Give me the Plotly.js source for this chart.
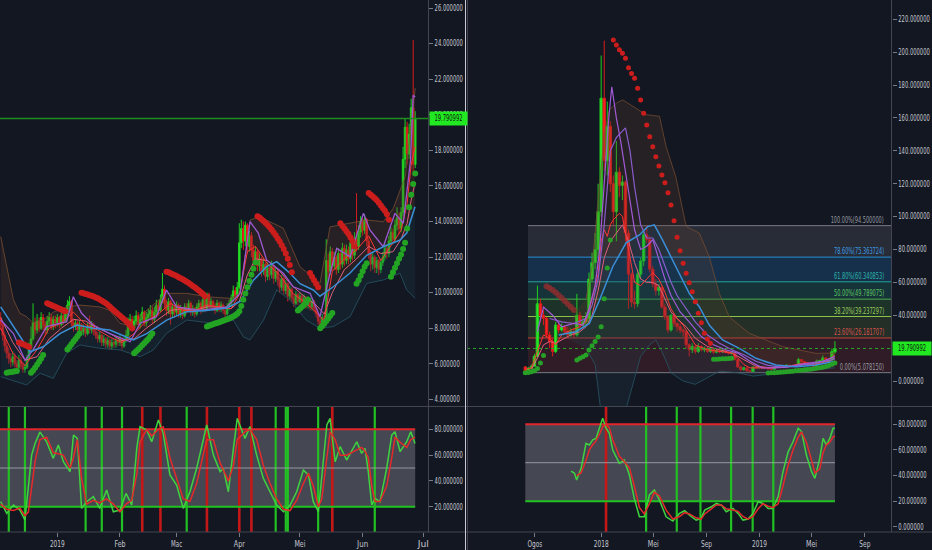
<!DOCTYPE html>
<html><head><meta charset="utf-8">
<script src="https://cdn.plot.ly/plotly-3.0.1.min.js"></script>
<style>html,body{margin:0;padding:0;background:#131722;}#chart{width:932px;height:550px;}</style>
</head><body><div id="chart"></div>
<script>
// ---------- LEFT PANE: daily, index 0 = 2018-12-04 ----------
const openL0 = 8.6;
const closeL = [8.2,7.6,7.0,6.6,6.3,6.1,6.4,6.0,5.8,6.2,5.9,5.7,5.8,6.3,6.9,7.4,8.3,7.9,8.4,8.0,8.6,8.2,7.9,8.4,8.6,8.1,8.5,8.3,
8.6,8.2,8.7,8.4,8.9,9.3,9.5,8.3,8.1,8.3,7.9,8.2,7.8,8.0,7.7,8.1,7.9,8.2,7.8,7.6,7.4,7.6,7.2,7.4,7.1,7.3,7.0,7.2,7.1,7.3,7.2,
7.4,7.0,7.3,7.6,8.2,8.5,8.0,8.4,8.7,8.2,8.5,8.9,8.3,8.6,8.8,9.0,8.5,8.9,9.3,9.0,9.6,10.2,9.4,9.0,9.5,8.8,9.2,8.9,
9.3,8.8,9.1,8.7,9.2,9.0,9.4,8.9,9.1,8.8,9.2,9.4,9.0,9.6,9.1,9.9,9.3,9.5,9.2,9.0,9.4,9.1,9.3,9.0,8.8,9.2,9.4,9.7,10.1,9.8,10.3,
12.8,13.6,12.9,13.8,12.6,13.2,12.4,11.8,12.3,11.5,11.9,11.2,11.6,10.9,11.4,11.0,11.5,10.8,11.2,10.7,10.3,10.8,10.1,10.5,9.8,10.2,9.7,9.4,9.9,9.5,
9.8,9.4,9.7,9.3,9.6,9.2,9.5,9.1,8.8,8.4,8.1,8.6,8.3,11.8,11.2,12.3,11.5,12.0,11.3,12.2,11.6,12.5,11.8,12.4,11.9,12.8,12.1,13.0,12.6,13.4,14.0,
13.5,14.1,12.9,12.2,11.6,12.0,11.4,11.8,11.3,11.7,12.0,12.5,12.2,12.9,13.4,13.0,13.8,14.2,13.6,14.5,17.5,19.3,17.8,18.9,20.4,17.2,19.790992];
const highL = [8.9,8.4,7.8,7.3,6.9,6.6,6.7,6.6,6.2,6.5,6.4,6.1,6.0,6.5,7.2,8.1,9.4,8.6,8.8,8.6,8.9,8.8,8.4,8.7,8.9,8.8,8.7,8.7,
8.8,8.7,8.9,8.9,9.1,9.6,9.8,9.6,8.5,8.5,8.4,8.4,8.3,8.2,8.1,8.3,8.7,8.4,8.3,8.0,7.8,7.8,7.7,7.6,7.5,7.5,7.4,7.4,7.4,7.5,7.5,
7.6,7.5,7.5,7.9,8.6,8.8,8.7,8.7,9.0,8.9,8.8,9.2,9.0,8.9,9.1,9.3,9.2,9.2,9.6,9.5,9.9,11.1,10.4,9.6,9.7,9.6,9.4,9.3,
9.5,9.4,9.3,9.2,9.4,9.4,9.6,9.5,9.3,9.2,9.4,9.6,9.5,9.8,10.0,10.0,10.0,9.7,9.6,9.4,9.6,9.5,9.5,9.4,9.2,9.4,9.6,9.9,10.4,10.3,10.6,
13.9,14.1,14.0,14.0,13.9,13.5,13.4,12.7,12.6,12.4,12.2,12.0,11.9,11.7,11.7,11.5,11.8,11.6,11.4,11.3,10.9,11.0,10.9,10.7,10.6,10.4,10.3,9.9,10.1,10.0,
10.0,9.9,9.9,9.8,9.8,9.7,9.7,9.6,9.2,8.9,8.6,8.8,8.8,13.0,12.2,12.6,12.5,12.3,12.1,12.5,12.4,12.8,12.7,12.7,12.6,13.3,13.0,13.4,15.6,13.8,14.3,
14.2,14.4,14.2,13.1,12.4,12.3,12.1,12.0,11.9,11.9,12.3,12.8,12.7,13.2,13.7,13.6,14.1,14.8,14.5,14.8,18.2,19.8,19.6,19.5,20.9,24.2,20.2];
const lowL = [7.9,7.3,6.7,6.3,6.0,5.8,5.9,5.8,5.6,5.6,5.7,5.5,5.5,5.7,6.2,6.8,7.3,7.6,7.7,7.8,7.9,7.9,7.6,7.7,8.2,7.9,7.9,8.0,
8.1,8.0,8.1,8.2,8.3,8.7,9.0,8.1,7.8,7.9,7.7,7.8,7.6,7.6,7.5,7.6,7.7,7.7,7.6,7.4,7.2,7.2,7.0,7.0,6.9,6.9,6.8,6.8,6.9,6.9,7.0,
7.0,6.8,6.9,7.2,7.5,8.0,7.8,7.9,8.2,8.0,8.0,8.3,8.1,8.1,8.4,8.6,8.3,8.3,8.7,8.7,8.9,9.4,9.1,8.7,8.8,8.2,8.6,8.6,
8.7,8.6,8.6,8.5,8.6,8.8,8.9,8.7,8.7,8.6,8.7,9.0,8.8,8.9,8.9,9.0,9.1,9.1,9.0,8.8,8.9,8.9,8.9,8.8,8.6,8.7,9.0,9.2,9.5,9.6,9.7,
10.2,12.5,12.4,12.6,12.2,12.3,12.0,11.5,11.6,11.2,11.2,10.9,11.0,10.6,10.7,10.7,10.8,10.5,10.6,10.4,10.0,10.1,9.9,9.9,9.5,9.6,9.5,9.2,9.3,9.3,
9.4,9.2,9.2,9.1,9.1,9.0,9.0,8.9,8.6,8.2,7.9,8.0,8.0,8.2,10.8,11.0,11.2,11.3,11.0,11.1,11.3,11.4,11.5,11.6,11.6,11.7,11.8,11.9,12.3,12.4,13.1,
13.2,13.3,12.6,11.9,11.2,11.3,11.1,11.1,11.0,11.1,11.5,11.8,11.9,12.0,12.7,12.7,12.8,13.5,13.3,13.4,14.3,17.0,17.2,17.5,18.6,16.6,17.0];

const blueLx = [0,9.5,14.5,21,29.3,37.6,45.8,54,65.6,72.2,82.1,92,101.9,111.8,118.4,125,131.5,136.5,143,148,154.6,157.9,164.5,172.8,181,189.2,197.5,200.8,204.9];
const blueLv = [9.2,7.5,6.68,6.96,7.7,8.18,8.0,7.9,7.34,7.7,8.46,8.93,9.0,9.14,9.5,10.7,11.46,11.74,11.1,10.5,10.15,9.8,10.33,11.1,12.1,12.58,12.96,13.35,14.83];
const purpleLx = [0,6.3,12,16,22.7,32.6,35.9,40,45.8,54,64,69,77,82,87,98.6,111.8,118.4,123.3,127.4,131.5,139.8,144.7,153,157.9,162.9,166.2,172.8,179.4,182.6,189.2,195,199.1,202.7,204,205];
const purpleLv = [8.46,7.7,6.2,6.78,8.09,8.37,9.77,8.84,8.18,7.7,7.24,8.28,8.65,10.15,9.2,9.0,9.2,9.96,13.99,13.35,11.84,11.09,10.33,9.96,8.65,11.09,12.49,12.02,14.46,13.52,12.58,14.46,13.9,17.46,21.1,21.0];
const emaLx = [0,6,12,18,24,30,36,42,48,54,60,66,72,78,84,90,96,102,108,114,118,122,126,132,138,144,150,156,160,164,170,176,182,188,194,198,201,203,205];
const redLv = [8.0,6.6,5.9,6.8,8.0,8.3,8.9,8.2,7.9,7.5,7.2,7.7,8.4,8.8,9.4,9.0,9.0,9.3,9.2,9.1,9.9,12.3,12.6,11.6,11.0,10.0,9.5,8.9,8.4,11.2,11.9,12.4,13.2,11.8,12.8,13.5,15.0,17.2,18.2];
const pinkLv = [8.6,7.2,6.2,6.4,7.4,8.0,8.5,8.4,8.0,7.7,7.3,7.4,8.0,8.5,9.0,9.1,9.0,9.2,9.2,9.1,9.5,11.0,11.9,11.8,11.2,10.4,9.8,9.3,8.8,10.0,11.3,11.9,12.6,12.2,12.3,13.0,13.9,15.2,16.2];
const upperLx = [0,3,6.3,9.5,12.8,16,21,26,32.6,39.2,49,54,59,65.6,70.6,82,92,102,113.4,118.4,123.3,128,139.8,148,157.9,162.9,172.8,181,189.2,194.2,200,203,205];
const upperLv = [13.15,11.46,9.6,8.84,8.65,8.3,8.46,8.9,9.2,9.3,9.2,9.0,8.28,8.09,8.84,9.96,9.96,9.77,9.68,9.96,14.08,14.27,13.62,11.46,10.52,13.7,13.9,14.08,13.99,14.74,16.5,19.5,21.5];
const lowerLx = [0,12.8,19.5,26,32.6,39.2,49,59,69,75.5,82,92,105,115,120,123.3,130,136.5,143,151,157.9,164.5,172.8,181,189.2,197.5,200.8,205];
const lowerLv = [5.28,4.81,5.47,5.18,6.59,7.06,6.87,6.78,6.4,6.78,7.71,8.46,8.28,8.46,7.52,7.34,8.46,10.15,9.59,8.46,8.0,8.09,8.65,10.52,10.71,11.09,10.15,9.68];
const sarRedL = [[9,[7.20,7.15,7.10,7.05,7.00,6.95]],
 [23,[9.40,9.35,9.30,9.25,9.20,9.15,9.10,9.05,9.00,8.95]],
 [40,[10.0,9.97,9.93,9.90,9.86,9.82,9.78,9.73,9.68,9.62,9.55,9.47,9.40,9.30,9.20,9.10,9.00,8.90,8.80,8.70,8.60,8.50,8.40,8.30,8.15,8.00]],
 [82,[11.18,11.14,11.09,11.04,10.99,10.93,10.87,10.81,10.75,10.68,10.61,10.54,10.46,10.38,10.30,10.21,10.12,10.02,9.92,9.80]],
 [127,[14.30,14.22,14.13,14.03,13.92,13.80,13.67,13.53,13.38,13.22,13.05,12.87,12.67,12.45,12.20,11.90,11.55,11.15]],
 [153,[11.10,10.90,10.70,10.50,10.30]],
 [168,[13.90,13.75,13.60,13.45,13.30,13.10,12.90,12.60]],
 [182,[15.60,15.50,15.40,15.30,15.20,15.05,14.90,14.75,14.60,14.40,14.10]]];
const sarGreenL = [[3,[5.50,5.52,5.54,5.56,5.58,5.60]],
 [15,[5.50,5.62,5.78,5.95,6.12,6.30,6.50]],
 [33,[6.80,6.95,7.10,7.25,7.40,7.55,7.70]],
 [66,[6.60,6.70,6.80,6.92,7.04,7.16,7.28,7.40,7.55,7.70]],
 [102,[8.10,8.14,8.18,8.22,8.26,8.30,8.34,8.38,8.42,8.46,8.50,8.55,8.60,8.66,8.73,8.82,8.95,9.25,9.60,9.95,10.30,10.65,11.00,11.35,11.70]],
 [147,[9.00,9.10,9.20,9.30,9.45,9.60]],
 [158,[8.00,8.12,8.25,8.40,8.55,8.70,8.85]],
 [176,[10.50,10.70,10.95,11.20,11.45,11.65]],
 [193,[10.90,11.15,11.40,11.65,11.90,12.15,12.45,12.80]],
 [201,[13.60,14.80,15.50,16.10,16.70]]];
const stochLx = [0,3,6.3,9.5,12,13.7,15.3,17,19.4,22.7,26,28.5,31,34.3,36,37.9,40,42.5,45.8,49,52.4,55.7,59,62,64.8,67.3,68.9,72.2,74.7,78,80.4,83.7,87,90.3,93.6,96.9,101.9,105.2,108.5,110.1,112.6,115.1,117,120.8,123.3,126.6,129.9,133.2,136.5,139.8,143.1,146.4,149.7,152.2,154.6,157.1,158.8,161.3,162.9,165.4,167.9,171.1,176.1,178.5,180.2,181.8,183.5,185.1,187.6,190.9,193.4,195,197.5,200.8,202.8,204.9];
const stochLk = [23.9,14.8,21.3,17.4,9.7,34,60,69,78,70.4,57.5,67.9,54.9,47.2,75.6,73,18.7,23.9,27.8,18.7,32.9,16.1,17.4,30.3,21.3,65.3,82.1,79.5,70.4,87.3,76.9,44.6,36.8,18.7,31.6,49.7,83.4,60,47.2,49.7,31.6,65.3,88.5,73,82.1,60,42,31.6,21.3,16.1,21.3,31.6,48.4,44.6,23.9,16.1,42,83.4,88.5,54.9,66.6,56.2,70.4,61.4,65.3,47.2,21.3,26.5,23.9,49.7,75.6,78.2,62.7,70.4,78.2,69.1];
const stochLd = [22,18,17,19,13,16,35,55,72,74,62,61,60,50,58,72,42,22,25,23,26,22,16,22,25,45,70,80,75,80,82,58,42,26,24,38,72,72,54,49,40,52,72,78,80,72,52,38,26,18,17,25,38,46,36,20,26,58,78,72,60,60,64,66,63,58,36,24,24,36,58,74,70,66,72,74];
const signalGreenL = [4,12,42,50,60,92,136,141,142,157,185];
const signalRedL = [70,79,102,118,124,164];
const tickDatesL = ['2019-01-01','2019-02-01','2019-03-01','2019-04-01','2019-05-01','2019-06-01','2019-07-01'];
const tickTextL = ['2019','Feb','Mac','Apr','Mei','Jun','Jul'];

// ---------- RIGHT PANE: weekly, index 0 = 2017-07-10 ----------
const openR0 = 8.6;
const closeR = [6.2,7.8,9.0,15.0,47.0,40.0,38.0,28.0,24.0,18.0,34.0,31.0,33.0,30.0,28.0,30.0,28.0,40.0,34.0,36.0,38.0,62.0,72.0,80.0,103.0,172.0,134.0,155.0,120.0,103.0,127.0,119.0,121.0,90.0,65.0,48.0,47.0,65.0,73.0,89.0,86.0,68.0,59.0,55.0,57.0,45.0,39.0,31.0,40.0,35.0,33.0,31.0,30.0,22.0,19.0,21.0,18.0,21.0,19.0,20.0,18.0,19.5,17.5,18.5,17.8,18.6,17.5,16.8,17.2,13.0,8.5,7.0,8.0,6.2,5.8,8.5,8.0,8.7,8.1,7.9,7.4,7.1,8.5,8.9,8.3,9.0,9.6,8.9,9.2,9.4,13.0,11.8,11.2,10.5,9.5,8.5,12.0,12.4,14.0,11.6,12.9,17.8,19.790992];
const highR = [9.0,8.5,10.0,16.5,58.0,50.0,43.0,39.0,30.0,26.0,36.0,36.0,35.0,34.0,33.0,32.0,32.0,53.0,42.0,39.0,42.0,66.0,78.0,90.0,120.0,198.0,207.0,170.0,158.0,125.0,146.0,130.0,125.0,122.0,92.0,66.0,55.0,68.0,75.0,92.0,94.5,88.0,70.0,62.0,59.0,58.0,47.0,40.0,41.0,41.0,36.0,35.0,32.0,30.0,23.0,23.0,22.0,23.0,22.0,21.0,21.0,20.5,20.0,19.5,19.0,19.5,19.0,18.0,18.0,17.8,13.5,9.5,8.8,8.5,6.8,8.9,9.2,9.4,9.1,8.6,8.2,7.6,8.8,9.4,9.2,9.3,9.9,9.8,9.5,9.8,14.1,13.4,12.2,11.6,10.8,9.8,13.0,12.9,15.6,14.4,13.2,19.8,24.2];
const lowR = [5.078,5.8,7.5,8.8,14.0,36.0,34.0,26.0,20.0,15.0,17.0,29.0,30.0,29.0,26.0,27.0,26.0,27.0,32.0,33.0,34.0,36.0,60.0,68.0,76.0,100.0,128.0,125.0,115.0,95.0,85.0,112.0,110.0,85.0,44.0,45.0,44.0,45.0,62.0,70.0,84.0,66.0,57.0,52.0,52.0,44.0,37.0,29.0,30.0,33.0,30.0,29.0,27.0,20.0,15.0,17.0,16.5,17.0,18.0,17.5,17.0,17.0,16.5,16.8,16.8,17.0,16.8,16.0,16.0,12.5,8.0,6.0,6.2,5.6,5.3,5.6,7.4,7.8,7.7,7.5,7.0,6.8,7.0,8.2,8.0,8.1,8.8,8.6,8.7,9.0,9.2,11.2,10.8,10.2,9.2,8.0,8.0,11.2,11.8,11.2,11.0,12.0,16.6];

const blueRx = [11,16.7,21.1,24.4,28.8,33.2,37.6,40.3,42.5,45.2,49.6,54,57.3,60.6,65,70.5,76,82.6,89.2,95.8,101.2,102];
const blueRv = [28,30,35,49,69.5,84,88.8,93.9,95,85.8,69.5,53.3,45.2,34,25,19.9,13.8,9.7,8.7,9.7,11.7,12.0];
const purple1Rx = [4,6,9,12,16,19,21,23,24.5,26,27.5,28.5,30,31.5,33,34.5,36,38,40,42,44,46,48,51,54,58,62,66,70,74,78,82,86,90,94,98,102];
const purple1Rv = [30,45,40,33,35,34,44,58,80,120,160,179,160,145,128,110,92,80,82,86,74,62,52,42,36,27,22,19,17,12,8,8,8.5,10,11,12,15];
const purple2Rx = [8,12,16,20,22,24,26,28,30,32,33,34.5,36,38,40,42,44,46,48,50,53,56,60,64,68,72,76,80,84,88,92,96,100,102];
const purple2Rv = [38,36,35,38,46,62,95,140,148,152,154,140,118,95,87,87,80,70,60,52,44,36,28,23,19,16,12,9.5,8.5,8.8,10,11,12.5,13.5];
const redRx = [0,2,4,6,8,10,12,15,18,20,22,24,25,26,27,28,29,30,31,32,33,34,35,36,38,40,42,44,46,48,50,52,54,56,60,64,68,70,72,74,78,82,86,90,92,94,96,98,100,102];
const redRv = [7,8,18,28,26,22,28,31,33,36,50,65,85,92,88,95,98,100,102,100,90,78,68,60,58,62,66,62,54,44,38,34,28,22,19,18,17,14,10,8,8,8,8.8,10.5,11,10.5,10,11.5,13,16];
const pinkRx = [2,4,6,8,10,12,15,18,20,22,24,26,28,30,32,34,36,38,40,42,44,46,48,50,53,56,60,64,68,72,76,80,84,88,92,96,100,102];
const pinkRv = [7,14,22,24,23,25,28,30,33,40,55,75,85,90,95,85,72,62,60,60,58,50,42,38,33,26,21,19,17,13,9,8.2,8.2,9,10,10.5,12,14];
const upperRx = [20,22,24,26,27.7,30,32.1,35.4,39.8,44.2,46.4,49.6,53,57.3,60.6,63.9,67.2,73.8,84.8,95.8,102];
const upperRv = [50,70,110,150,165,169,171,167,162,161,142.5,124,94,90,75.6,53.3,39,29,20.9,16.8,17];
const lowerRx = [20,23,25,28,32,35,38,41,43,45,48,52,56,60,64,70,75,80,85,90,95,102];
const lowerRv = [20,10,-20,-30,-25,-5,15,22,25,18,5,0,-2,2,6,5,3,4,5,6,7,8];
const sarRedRdim = [[7,[57.6,56.5,55.3,53.8,52.2,50.5,48.7,46.9,45.0,43.2]]];
const sarRedR = [[29,[207.4,204.4,201.5,199.3,196.3,190.5,187.0,184.1,178.0,171.0,162.8,155.7,148.6,142.5,136.4,130.8,125.3,120.6,114.5,107.0,97.5,87.4,79.3,71.6,65.5,59.8,54.3,48.2,41.2,35.5,29.0,25.5,23.0]]];
const sarGreenR = [[0,[5.08,5.2,5.6,6.3,7.6,11.0,15.5]],
 [17,[12.8,13.8,14.8,15.8,18.9,21.5,24.0,26.8,33.0,50.0,68.7,85.8]],
 [62,[13.2,13.3,13.4,13.5,13.6,13.7,13.8]],
 [80,[4.9,5.0,5.1,5.2,5.3,5.5,5.6,5.8,6.0,6.2,6.4,6.6,6.8,7.0,7.2,7.4,7.7,8.0,8.4,8.8,9.4,10.2,11.0]]];
const stochRx = [15.1,16.2,16.9,18.4,20,21.1,22.2,23.3,24.4,25.5,26.6,27.7,28.8,31,32.6,34.3,35.9,37.6,39.2,40.9,42.5,44.2,46.4,48.6,50.8,52.5,54.1,56.3,57.9,59.1,61.3,62.9,64.6,66.2,68.4,70.1,71.7,73.4,75,76.7,78.3,80,81.6,83.3,84.9,86.6,88.2,89.9,91,92.6,94.3,95.4,97,98.1,99.2,100.3,101.4,102];
const stochRk = [43.5,41.7,36.5,45.6,65.1,63.8,67.8,69,76.9,84.7,76.9,73,59.9,49.5,52.1,40.4,22.1,7.8,7.8,24.8,28.7,20.8,7.8,4.4,10.4,12.5,9.1,5.2,6.5,13,15.6,18.2,16.9,11.7,14.3,10.4,5.2,6,10.4,19.5,18.2,14.3,14.3,23.5,43,58.6,66.4,76.9,74.3,56,43,37.8,53.4,69,63.8,69,76.9,76.9];
const stochRd = [null,null,40,42,52,60,64,67,72,78,80,77,68,55,51,46,32,15,10,18,27,24,13,6,8,11,10,7,6,10,14,17,17,14,13,12,8,6,8,14,18,16,15,18,32,48,60,70,74,66,52,42,45,58,64,66,70,71];
const signalGreenR = [39.8,49.9,57.7,67.8,74.9,81.7];
const signalRedR = [26.6];
const fibLevels = [94.5,75.363724,60.340853,49.789075,39.237297,26.181707,5.078150];
const fibText = ['100.00%(94.500000)','78.60%(75.363724)','61.80%(60.340853)','50.00%(49.789075)','38.20%(39.237297)','23.60%(26.181707)','0.00%(5.078150)'];
const tickDatesR = ['2017-08-01','2018-01-01','2018-05-01','2018-09-01','2019-01-01','2019-05-01','2019-09-01'];
const tickTextR = ['Ogos','2018','Mei','Sep','2019','Mei','Sep'];
const lastPrice = 19.790992;

// ---------- helpers ----------
const DAY = 86400000;
const startL = Date.UTC(2018,11,4), startR = Date.UTC(2017,6,10);
function fmt(ms){const d=new Date(ms);const p=n=>String(n).padStart(2,'0');
 return d.getUTCFullYear()+'-'+p(d.getUTCMonth()+1)+'-'+p(d.getUTCDate())+' '+p(d.getUTCHours())+':'+p(d.getUTCMinutes())+':'+p(d.getUTCSeconds());}
const dL = i => fmt(startL + i*DAY);
const dR = w => fmt(startR + w*7*DAY);
function segs(list, df){const xs=[],ys=[];list.forEach(([s,v])=>v.forEach((y,k)=>{xs.push(df(s+k));ys.push(y);}));return {xs,ys};}
const FONT = '"DejaVu Sans Condensed","Liberation Sans",sans-serif';
const GREEN='#2bea2b', RED='#ff2222';

function line(xs, ys, color, width, ax, ay, extra){return Object.assign({type:'scatter',mode:'lines',x:xs,y:ys,line:{color:color,width:width},xaxis:ax,yaxis:ay,hoverinfo:'skip'},extra||{});}
function candles(x,o,h,l,c,ax,ay){return {type:'candlestick',x:x,open:o,high:h,low:l,close:c,xaxis:ax,yaxis:ay,hoverinfo:'skip',whiskerwidth:0,
 increasing:{line:{color:'#1fcf1f',width:1},fillcolor:GREEN},decreasing:{line:{color:'#d81c1c',width:1},fillcolor:RED}};}
function dots(list, df, color, size, ax, ay){const s=segs(list,df);return {type:'scatter',mode:'markers',x:s.xs,y:s.ys,marker:{color:color,size:size,line:{width:0}},xaxis:ax,yaxis:ay,hoverinfo:'skip'};}

const xL = closeL.map((_,i)=>dL(i));
const openL = [openL0].concat(closeL.slice(0,-1));
const xR = closeR.map((_,i)=>dR(i));
const openR = [openR0].concat(closeR.slice(0,-1));

const traces = [
 line(upperLx.map(dL), upperLv, 'rgba(125,80,50,0.75)', 1, 'x','y'),
 line(blueLx.map(dL), blueLv, 'rgba(0,0,0,0)', 0, 'x','y', {fill:'tonexty', fillcolor:'rgba(95,62,45,0.28)'}),
 line(lowerLx.map(dL), lowerLv, 'rgba(40,85,100,0.8)', 1, 'x','y', {fill:'tonexty', fillcolor:'rgba(30,65,80,0.28)'}),
 candles(xL, openL, highL, lowL, closeL, 'x','y'),
 line(emaLx.map(dL), pinkLv, '#e0607c', 1, 'x','y'),
 line(emaLx.map(dL), redLv, '#ff3434', 1, 'x','y'),
 line(purpleLx.map(dL), purpleLv, '#9b59d0', 1.3, 'x','y'),
 line(blueLx.map(dL), blueLv, '#3a8fd8', 1.5, 'x','y'),
 dots(sarRedL, dL, '#cc1d1d', 6, 'x','y'),
 dots(sarGreenL, dL, '#23a523', 6, 'x','y'),
 line(stochLx.map(dL), stochLk, '#3fd43f', 1.5, 'x2','y2'),
 line(stochLx.map(dL), stochLd, '#e42a2a', 1.5, 'x2','y2'),
 line(upperRx.map(dR), upperRv, 'rgba(125,80,50,0.7)', 1, 'x3','y3'),
 line(blueRx.map(dR), blueRv, 'rgba(0,0,0,0)', 0, 'x3','y3', {fill:'tonexty', fillcolor:'rgba(95,62,45,0.25)'}),
 line(lowerRx.map(dR), lowerRv, 'rgba(40,85,100,0.8)', 1, 'x3','y3', {fill:'tonexty', fillcolor:'rgba(30,65,80,0.25)'}),
 dots(sarRedRdim, dR, 'rgba(150,45,45,0.75)', 6, 'x3','y3'),
 candles(xR, openR, highR, lowR, closeR, 'x3','y3'),
 line(pinkRx.map(dR), pinkRv, '#e0607c', 1, 'x3','y3'),
 line(redRx.map(dR), redRv, '#ff3434', 1, 'x3','y3'),
 line(purple2Rx.map(dR), purple2Rv, '#8a5ccc', 1.2, 'x3','y3'),
 line(purple1Rx.map(dR), purple1Rv, '#a05ad6', 1.2, 'x3','y3'),
 line(blueRx.map(dR), blueRv, '#3a8fd8', 1.5, 'x3','y3'),
 dots(sarRedR, dR, '#cc1d1d', 5, 'x3','y3'),
 dots(sarGreenR, dR, '#27a027', 5, 'x3','y3'),
 line(stochRx.map(dR), stochRk, '#3fd43f', 1.5, 'x4','y4'),
 line(stochRx.map(dR), stochRd, '#e42a2a', 1.5, 'x4','y4')
];

const shapes = [];
function stochDecor(ax, ay, x0, x1, yLo, yHi, greens, reds, df){
 shapes.push({type:'rect',xref:ax,yref:ay,x0:x0,x1:x1,y0:20,y1:80,fillcolor:'rgba(200,200,212,0.28)',line:{width:0},layer:'below'});
 greens.forEach(v=>shapes.push({type:'line',xref:ax,yref:ay,x0:df(v),x1:df(v),y0:yLo,y1:yHi,line:{color:'#22c022',width:2.2},layer:'below'}));
 reds.forEach(v=>shapes.push({type:'line',xref:ax,yref:ay,x0:df(v),x1:df(v),y0:yLo,y1:yHi,line:{color:'#c41818',width:2.6},layer:'below'}));
 shapes.push({type:'line',xref:ax,yref:ay,x0:x0,x1:x1,y0:80,y1:80,line:{color:'#e3262c',width:2},layer:'below'});
 shapes.push({type:'line',xref:ax,yref:ay,x0:x0,x1:x1,y0:20,y1:20,line:{color:'#20c420',width:2},layer:'below'});
 shapes.push({type:'line',xref:ax,yref:ay,x0:x0,x1:x1,y0:50,y1:50,line:{color:'rgba(170,172,180,0.8)',width:1},layer:'below'});
}
stochDecor('x2','y2', dL(-0.34), dL(205), 0.37, 97.35, signalGreenL, signalRedL, dL);
stochDecor('x4','y4', dR(0), dR(102), -4.1, 93.5, signalGreenR, signalRedR, dR);

const fibFill = ['rgba(120,123,134,0.22)','rgba(33,150,243,0.2)','rgba(38,166,154,0.2)','rgba(76,175,80,0.18)','rgba(139,195,74,0.14)','rgba(214,60,70,0.15)'];
const fibLine = ['#787b86','#2a8fd0','#26a69a','#4caf50','#8bc34a','#c8403c','#787b86'];
const fibTextColor = ['#9598a1','#3d9be0','#2bb5a8','#5cc45f','#9ccc5a','#d9534f','#9598a1'];
const fx0 = dR(0.9), fx1 = dR(120.7);
for(let k=0;k<fibLevels.length-1;k++){
 shapes.push({type:'rect',xref:'x3',yref:'y3',x0:fx0,x1:fx1,y0:fibLevels[k+1],y1:fibLevels[k],fillcolor:fibFill[k],line:{width:0},layer:'below'});
}
fibLevels.forEach((v,k)=>shapes.push({type:'line',xref:'x3',yref:'y3',x0:fx0,x1:fx1,y0:v,y1:v,line:{color:fibLine[k],width:1},layer:'below'}));

shapes.push({type:'line',xref:'paper',yref:'y',x0:0,x1:428/932,y0:lastPrice,y1:lastPrice,line:{color:'#1e8e1e',width:1.5}});
shapes.push({type:'line',xref:'paper',yref:'y3',x0:467/932,x1:891.7/932,y0:lastPrice,y1:lastPrice,line:{color:'#2aa52a',width:1,dash:'dot'}});

const py = p => 1 - p/550, px = p => p/932;
const GRID='#434651';
shapes.push({type:'line',xref:'paper',yref:'paper',x0:0,x1:1,y0:py(406.5),y1:py(406.5),line:{color:GRID,width:1}});
shapes.push({type:'line',xref:'paper',yref:'paper',x0:0,x1:1,y0:py(532),y1:py(532),line:{color:GRID,width:1}});
shapes.push({type:'line',xref:'paper',yref:'paper',x0:px(428.5),x1:px(428.5),y0:py(0),y1:py(532),line:{color:GRID,width:1}});
shapes.push({type:'line',xref:'paper',yref:'paper',x0:px(891.5),x1:px(891.5),y0:py(0),y1:py(532),line:{color:GRID,width:1}});
shapes.push({type:'line',xref:'paper',yref:'paper',x0:px(467.5),x1:px(467.5),y0:py(0),y1:py(550),line:{color:GRID,width:1}});
shapes.push({type:'line',xref:'paper',yref:'paper',x0:px(465.5),x1:px(465.5),y0:py(0),y1:py(550),line:{color:'#c9ccd4',width:1}});

const annotations = [];
fibLevels.forEach((v,k)=>annotations.push({xref:'paper',yref:'y3',x:886/932,y:v,xanchor:'right',yanchor:'bottom',text:fibText[k],showarrow:false,
 font:{family:FONT,size:8,color:fibTextColor[k]},yshift:-1}));
annotations.push({xref:'paper',yref:'y',x:428.5/932,y:lastPrice,xanchor:'left',yanchor:'middle',text:lastPrice.toFixed(6),showarrow:false,
 bgcolor:'#22e822',font:{family:FONT,size:8,color:'#0c200c'},width:35,height:11,borderpad:1});
annotations.push({xref:'paper',yref:'y3',x:892/932,y:lastPrice,xanchor:'left',yanchor:'middle',text:lastPrice.toFixed(6),showarrow:false,
 bgcolor:'#22e822',font:{family:FONT,size:8,color:'#0c200c'},width:36,height:11,borderpad:1});

const tickFont = {family:FONT,size:8,color:'#c3c6ce'};
function yax(dom, rng, vals, anchor){return {domain:dom,range:rng,side:'right',anchor:anchor,tickvals:vals,tickformat:'.6f',ticks:'outside',ticklen:4,tickcolor:'#787b86',
 showgrid:false,zeroline:false,showline:false,tickfont:tickFont,fixedrange:true};}
function xax(dom, rng, anchor, extra){return Object.assign({domain:dom,range:rng,type:'date',anchor:anchor,showgrid:false,zeroline:false,showline:false,fixedrange:true,
 rangeslider:{visible:false}},extra);}
const domL=[0,428/932], domR=[467/932,891.7/932], domMain=[1-406/550,1], domLow=[1-532/550,1-407/550];
const layout = {
 width:932,height:550,margin:{l:0,r:0,t:0,b:0},paper_bgcolor:'#131722',plot_bgcolor:'#131722',showlegend:false,hovermode:false,
 boxgap:0.12, boxgroupgap:0.1,
 font:{family:FONT,size:8,color:'#c3c6ce'},
 xaxis: xax(domL,[dL(-0.34),dL(211.33)],'y',{showticklabels:false,ticks:''}),
 yaxis: yax(domMain,[3.628,26.45],[4,6,8,10,12,14,16,18,20,22,24,26],'x'),
 xaxis2: xax(domL,[dL(-0.34),dL(211.33)],'y2',{tickvals:tickDatesL,ticktext:tickTextL,ticks:'outside',ticklen:4,tickcolor:'#787b86',tickfont:tickFont}),
 yaxis2: yax(domLow,[0.37,97.35],[20,40,60,80],'x2'),
 xaxis3: xax(domR,[dR(-19.2),dR(120.7)],'y3',{showticklabels:false,ticks:''}),
 yaxis3: yax(domMain,[-15.2,231.75],[0,20,40,60,80,100,120,140,160,180,200,220],'x3'),
 xaxis4: xax(domR,[dR(-19.2),dR(120.7)],'y4',{tickvals:tickDatesR,ticktext:tickTextR,ticks:'outside',ticklen:4,tickcolor:'#787b86',tickfont:tickFont}),
 yaxis4: yax(domLow,[-4.1,93.5],[0,20,40,60,80],'x4'),
 shapes:shapes, annotations:annotations
};

function fitText(t, perChar, rightAlign){
 const s = t.textContent; if(!s) return;
 const L = s.length*perChar;
 if(rightAlign){
  const b = t.getBBox(); const right = b.x + b.width;
  t.setAttribute('text-anchor','end'); t.setAttribute('x', right);
  t.querySelectorAll('tspan[x]').forEach(ts=>ts.setAttribute('x', right));
 }
 t.setAttribute('textLength', L.toFixed(1)); t.setAttribute('lengthAdjust','spacingAndGlyphs');
}
Plotly.newPlot('chart', traces, layout, {staticPlot:true,displayModeBar:false}).then(()=>{
 document.querySelectorAll('g.yaxislayer-above text').forEach(t=>fitText(t,3.15,false));
 document.querySelectorAll('g.xaxislayer-above text').forEach(t=>fitText(t,3.7,false));
 document.querySelectorAll('g.annotation').forEach((g,k)=>{const t=g.querySelector('text'); if(!t) return;
  if(k<fibText.length) fitText(t,2.95,true); else fitText(t,3.1,false);});
});
</script></body></html>
